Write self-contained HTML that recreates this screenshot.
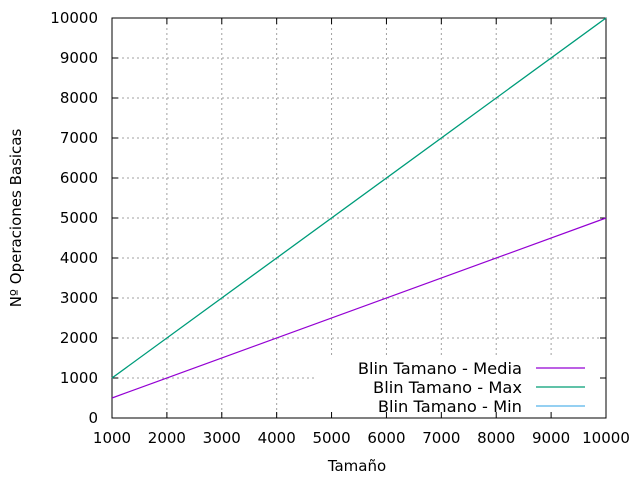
<!DOCTYPE html>
<html><head><meta charset="utf-8"><style>
body{margin:0;background:#fff}
svg text{font-family:"DejaVu Sans","Liberation Sans",sans-serif;font-size:15px;fill:#000}
</style></head><body>
<svg id="c" width="640" height="480" xmlns="http://www.w3.org/2000/svg"></svg>
<script>
const xTicks=[1000,2000,3000,4000,5000,6000,7000,8000,9000,10000];
const yTicks=[0,1000,2000,3000,4000,5000,6000,7000,8000,9000,10000];
const sizes=[1000,10000];
const media=[500,5000];
const maxV=[1000,10000];
const minV=[1000,10000];
const L=112,R=606,T=18,B=418;
const sx=v=>L+(v-1000)/9000*(R-L);
const sy=v=>B-v/10000*(B-T);
const s=document.getElementById('c');
const NS='http://www.w3.org/2000/svg';
function mk(t,a,p){const e=document.createElementNS(NS,t);for(const k in a)e.setAttribute(k,a[k]);(p||s).appendChild(e);return e;}
xTicks.forEach(v=>{if(v>1000&&v<10000){const e=mk('line',{x1:sx(v),x2:sx(v),y1:T,y2:B,stroke:'#a0a0a0','stroke-dasharray':'2,3'});

}});
yTicks.forEach(v=>{if(v>0&&v<10000){const e=mk('line',{x1:L,x2:R,y1:sy(v),y2:sy(v),stroke:'#a0a0a0','stroke-dasharray':'2,3'});

}});
const lg=mk('rect',{x:316,y:356,width:289,height:61,fill:'#fff'});


xTicks.forEach(v=>{mk('line',{x1:sx(v),x2:sx(v),y1:B,y2:B-6,stroke:'#000'});mk('line',{x1:sx(v),x2:sx(v),y1:T,y2:T+6,stroke:'#000'});
const t=mk('text',{x:sx(v),y:B+25,'text-anchor':'middle'});t.textContent=v;

});
yTicks.forEach(v=>{mk('line',{x1:L,x2:L+6,y1:sy(v),y2:sy(v),stroke:'#000'});mk('line',{x1:R,x2:R-6,y1:sy(v),y2:sy(v),stroke:'#000'});
const t=mk('text',{x:98,y:sy(v)+5,'text-anchor':'end'});t.textContent=v;

});
const fr=mk('rect',{x:L,y:T,width:R-L,height:B-T,fill:'none',stroke:'#000'});


function line(data,col,name){const p=sizes.map((x,i)=>sx(x)+','+sy(data[i])).join(' ');
const e=mk('polyline',{points:p,fill:'none',stroke:col,'stroke-width':1.2});

}
line(minV,'#56b4e9','series-min');
line(maxV,'#009e73','series-max');
line(media,'#9400d3','series-media');
const ent=[['Blin Tamano - Media','#9400d3'],['Blin Tamano - Max','#009e73'],['Blin Tamano - Min','#56b4e9']];
ent.forEach((e,i)=>{const y=368+i*19;
const t=mk('text',{x:522,y:y+6,'text-anchor':'end','font-size':'16.3px',style:'font-size:16.3px'});t.textContent=e[0];


const l=mk('line',{x1:536,x2:585,y1:y,y2:y,stroke:e[1],'stroke-width':1.2});

});
const xt=mk('text',{x:357,y:471,'text-anchor':'middle'});xt.textContent='Tamaño';


const yt=mk('text',{x:21,y:218,'text-anchor':'middle',transform:'rotate(-90 21 218)'});yt.textContent='Nº Operaciones Basicas';


</script>
</body></html>
